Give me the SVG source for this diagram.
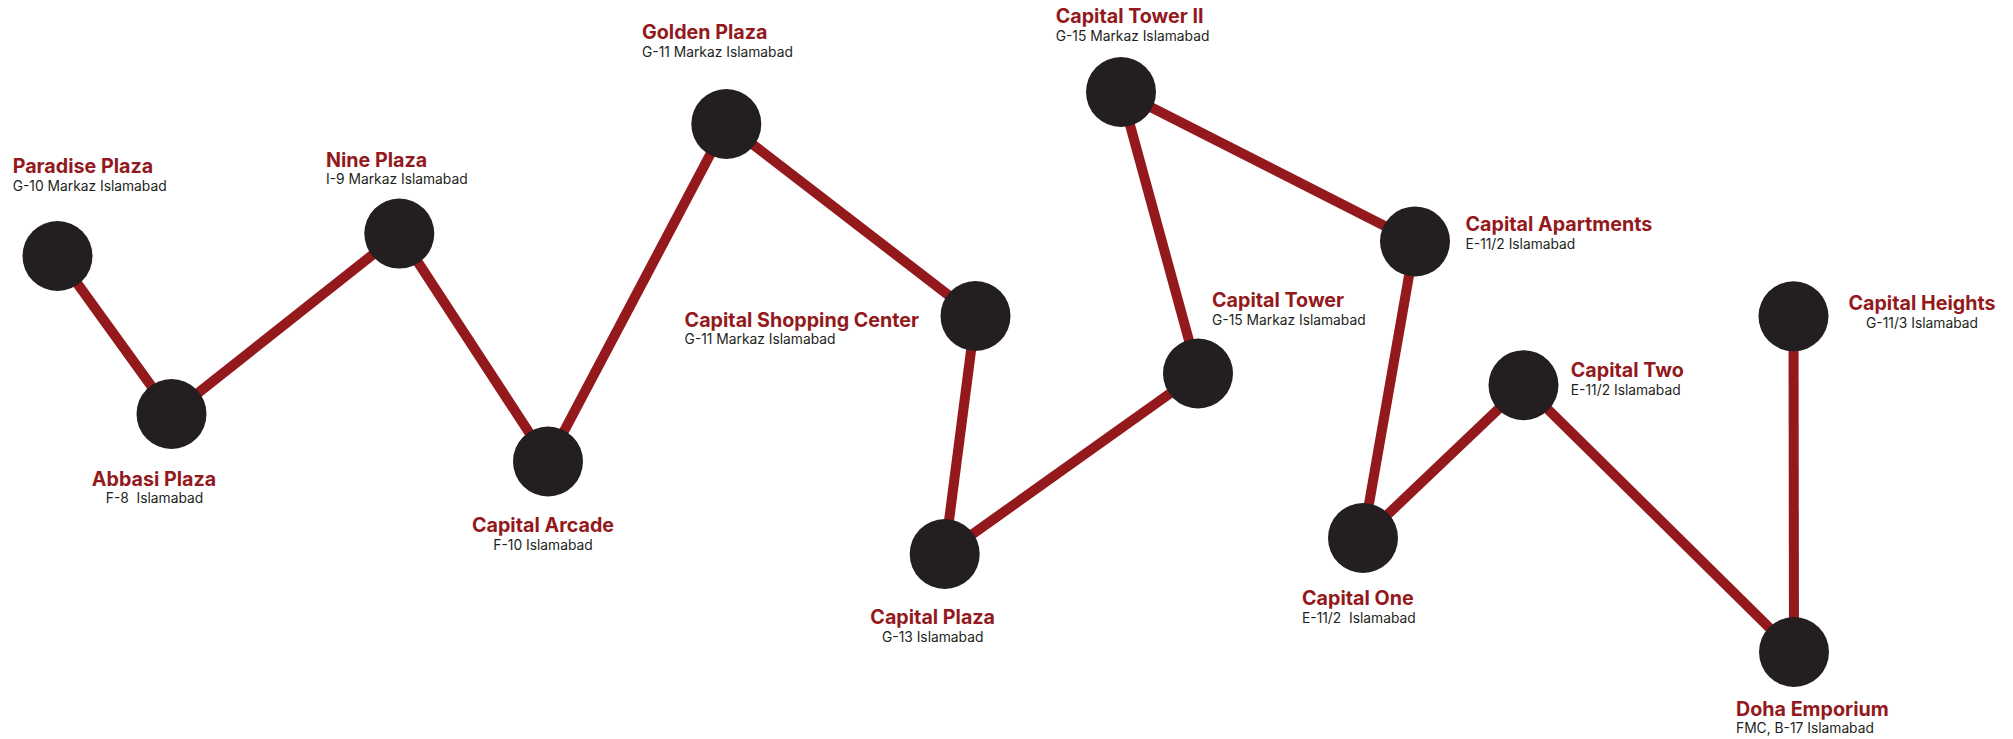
<svg xmlns="http://www.w3.org/2000/svg" width="2013" height="739" viewBox="0 0 2013 739">
<style>
.bg{fill:#ffffff}
.edge{stroke:#93191c;stroke-width:10;stroke-linecap:butt;fill:none}
.dot{fill:#231f20}
.t{font-family:"Inter","Lato","Liberation Sans",sans-serif;font-weight:700;font-size:19.7px;fill:#93191c}
.s{font-family:"Inter","Lato","Liberation Sans",sans-serif;font-weight:400;font-size:13.8px;fill:#231f20}
.m{text-anchor:middle}
</style>
<rect class="bg" x="0" y="0" width="2013" height="739"/>
<g id="connectors">
<line class="edge" x1="57.5" y1="256" x2="171.5" y2="414"/>
<line class="edge" x1="171.5" y1="414" x2="399.3" y2="233.6"/>
<line class="edge" x1="399.3" y1="233.6" x2="548" y2="461.5"/>
<line class="edge" x1="548" y1="461.5" x2="726.3" y2="124"/>
<line class="edge" x1="726.3" y1="124" x2="975.5" y2="316"/>
<line class="edge" x1="975.5" y1="316" x2="944.7" y2="554"/>
<line class="edge" x1="944.7" y1="554" x2="1198" y2="373.5"/>
<line class="edge" x1="1198" y1="373.5" x2="1121" y2="92"/>
<line class="edge" x1="1121" y1="92" x2="1415" y2="241.4"/>
<line class="edge" x1="1415" y1="241.4" x2="1363" y2="538"/>
<line class="edge" x1="1363" y1="538" x2="1523.5" y2="385.2"/>
<line class="edge" x1="1523.5" y1="385.2" x2="1794" y2="652"/>
<line class="edge" x1="1794" y1="652" x2="1793.5" y2="316.3"/>
</g>
<g id="paradise-plaza">
<circle class="dot" cx="57.5" cy="256" r="35"/>
<text class="t" x="12.7" y="173.3">Paradise Plaza</text>
<text class="s" x="12.7" y="190.7">G-10 Markaz Islamabad</text>
</g>
<g id="abbasi-plaza">
<circle class="dot" cx="171.5" cy="414" r="35"/>
<text class="t m" x="154" y="486">Abbasi Plaza</text>
<text class="s m" x="154.5" y="502.7" xml:space="preserve">F-8  Islamabad</text>
</g>
<g id="nine-plaza">
<circle class="dot" cx="399.3" cy="233.6" r="35"/>
<text class="t" x="326" y="166.7">Nine Plaza</text>
<text class="s" x="326" y="184">I-9 Markaz Islamabad</text>
</g>
<g id="capital-arcade">
<circle class="dot" cx="548" cy="461.5" r="35"/>
<text class="t m" x="543" y="532">Capital Arcade</text>
<text class="s m" x="543" y="550">F-10 Islamabad</text>
</g>
<g id="golden-plaza">
<circle class="dot" cx="726.3" cy="124" r="35"/>
<text class="t" x="642" y="39.3">Golden Plaza</text>
<text class="s" x="642" y="57.1">G-11 Markaz Islamabad</text>
</g>
<g id="capital-shopping-center">
<circle class="dot" cx="975.5" cy="316" r="35"/>
<text class="t" x="684.6" y="326.7">Capital Shopping Center</text>
<text class="s" x="684.6" y="343.6">G-11 Markaz Islamabad</text>
</g>
<g id="capital-plaza">
<circle class="dot" cx="944.7" cy="554" r="35"/>
<text class="t m" x="932.7" y="624">Capital Plaza</text>
<text class="s m" x="932.7" y="641.5">G-13 Islamabad</text>
</g>
<g id="capital-tower">
<circle class="dot" cx="1198" cy="373.5" r="35"/>
<text class="t" x="1212" y="307">Capital Tower</text>
<text class="s" x="1212" y="324.6">G-15 Markaz Islamabad</text>
</g>
<g id="capital-tower-ii">
<circle class="dot" cx="1121" cy="92" r="35"/>
<text class="t" x="1055.7" y="23.3">Capital Tower II</text>
<text class="s" x="1055.7" y="40.7">G-15 Markaz Islamabad</text>
</g>
<g id="capital-apartments">
<circle class="dot" cx="1415" cy="241.4" r="35"/>
<text class="t" x="1465.5" y="230.7">Capital Apartments</text>
<text class="s" x="1465.5" y="248.7">E-11/2 Islamabad</text>
</g>
<g id="capital-one">
<circle class="dot" cx="1363" cy="538" r="35"/>
<text class="t" x="1302" y="605">Capital One</text>
<text class="s" x="1302" y="623" xml:space="preserve">E-11/2  Islamabad</text>
</g>
<g id="capital-two">
<circle class="dot" cx="1523.5" cy="385.2" r="35"/>
<text class="t" x="1570.8" y="376.7">Capital Two</text>
<text class="s" x="1570.8" y="395">E-11/2 Islamabad</text>
</g>
<g id="capital-heights">
<circle class="dot" cx="1793.5" cy="316.3" r="35"/>
<text class="t m" x="1922" y="310">Capital Heights</text>
<text class="s m" x="1922" y="328.3">G-11/3 Islamabad</text>
</g>
<g id="doha-emporium">
<circle class="dot" cx="1794" cy="652" r="35"/>
<text class="t" x="1736" y="716">Doha Emporium</text>
<text class="s" x="1736" y="733.3">FMC, B-17 Islamabad</text>
</g>
</svg>
